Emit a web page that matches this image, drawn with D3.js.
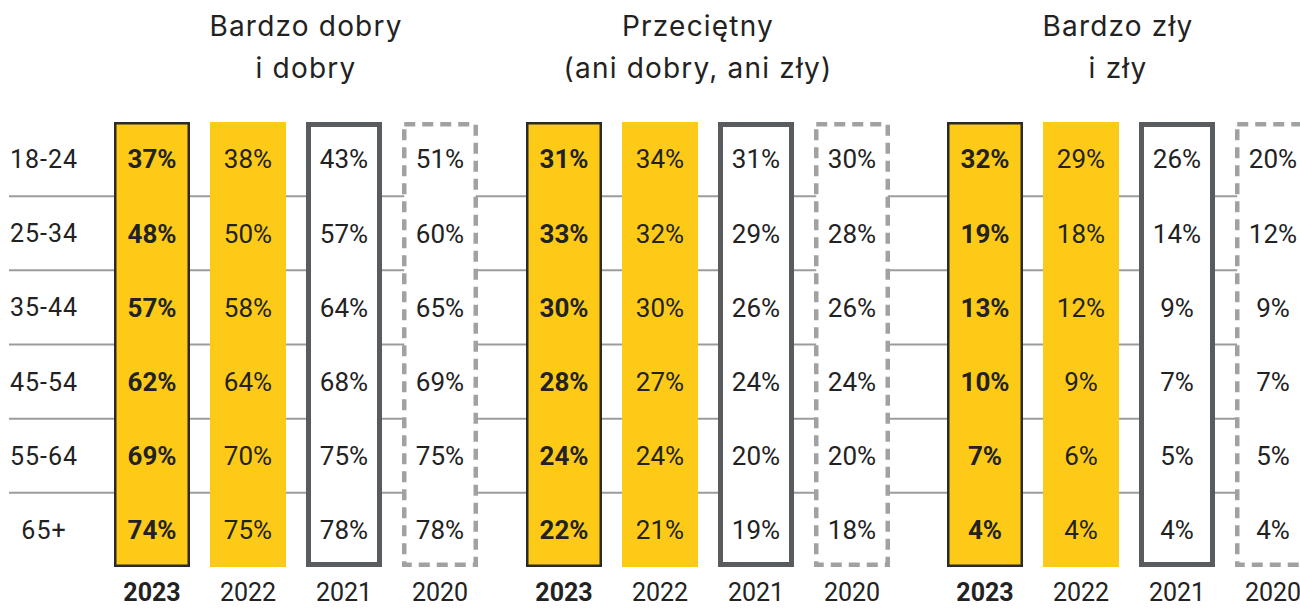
<!DOCTYPE html>
<html><head><meta charset="utf-8">
<script src="https://cdn.jsdelivr.net/npm/d3@7/dist/d3.min.js"></script>
<style>
html,body{margin:0;padding:0;background:#fff;}
svg{display:block;}
</style></head>
<body>
<svg id="chart" width="1300" height="608"></svg>
<script>
const groups = ["Bardzo dobry|i dobry", "Przeciętny|(ani dobry, ani zły)", "Bardzo zły|i zły"];
const years = ["2023", "2022", "2021", "2020"];
const ages = ["18-24", "25-34", "35-44", "45-54", "55-64", "65+"];

const good2023 = [37, 48, 57, 62, 69, 74];
const good2022 = [38, 50, 58, 64, 70, 75];
const good2021 = [43, 57, 64, 68, 75, 78];
const good2020 = [51, 60, 65, 69, 75, 78];

const avg2023 = [31, 33, 30, 28, 24, 22];
const avg2022 = [34, 32, 30, 27, 24, 21];
const avg2021 = [31, 29, 26, 24, 20, 19];
const avg2020 = [30, 28, 26, 24, 20, 18];

const bad2023 = [32, 19, 13, 10, 7, 4];
const bad2022 = [29, 18, 12, 9, 6, 4];
const bad2021 = [26, 14, 9, 7, 5, 4];
const bad2020 = [20, 12, 9, 7, 5, 4];

const values = [
  [good2023, good2022, good2021, good2020],
  [avg2023, avg2022, avg2021, avg2020],
  [bad2023, bad2022, bad2021, bad2020]
];

const svg = d3.select("#chart");
const NUMFONT = "Roboto, 'DejaVu Sans', sans-serif";
const TITLEFONT = "Inter, 'Open Sans', sans-serif";
const YELLOW = "#FDCB17";
const DARK = "#222222";

// layout
const x0 = d3.scaleOrdinal().domain(groups).range([114, 526, 947]);
const titleX = d3.scaleOrdinal().domain(groups).range([306, 698, 1118]);
const x1 = d3.scaleBand().domain(years).range([0, 364]).paddingInner(20 / 96).paddingOuter(0);
const y = d3.scaleBand().domain(ages).range([122, 567]).padding(0);

// row separator lines
const sep = ages.slice(1);
svg.append("g").selectAll("line").data(sep).join("line")
  .attr("x1", 9).attr("x2", 1300)
  .attr("y1", d => y(d)).attr("y2", d => y(d))
  .attr("stroke", "#9c9c9c").attr("stroke-width", 2);

// age labels
svg.append("g").selectAll("text").data(ages).join("text")
  .attr("x", 44).attr("y", d => y(d) + y.bandwidth() / 2)
  .attr("dy", "0.36em")
  .attr("text-anchor", "middle")
  .attr("font-family", NUMFONT).attr("font-size", 25)
  .attr("letter-spacing", "1px")
  .attr("fill", DARK)
  .text(d => d);

// titles
groups.forEach(g => {
  const lines = g.split("|");
  const cx = titleX(g);
  svg.append("text")
    .attr("x", cx).attr("y", 36)
    .attr("text-anchor", "middle")
    .attr("font-family", TITLEFONT).attr("font-size", 28).attr("font-weight", 400)
    .attr("letter-spacing", "1.2px")
    .attr("fill", DARK)
    .selectAll("tspan").data(lines).join("tspan")
    .attr("x", cx).attr("dy", (d, i) => i === 0 ? 0 : 42)
    .text(d => d);
});

const styles = {
  "2023": {fill: YELLOW, stroke: "#2a2a2a", sw: 2.5, dash: null, weight: 700, inset: 1.25},
  "2022": {fill: YELLOW, stroke: "none", sw: 0, dash: null, weight: 400, inset: 0},
  "2021": {fill: "#ffffff", stroke: "#585c5e", sw: 5, dash: null, weight: 400, inset: 2.5},
  "2020": {fill: "#ffffff", stroke: "#a0a2a2", sw: 4.5, dash: "11,7", weight: 400, inset: 2.25}
};

groups.forEach((g, gi) => {
  const gx = x0(g);
  const gg = svg.append("g").attr("transform", `translate(${gx},0)`);

  years.forEach((yr, yi) => {
    const s = styles[yr];
    const bx = x1(yr);
    gg.append("rect")
      .attr("x", bx + s.inset).attr("y", y.range()[0] + s.inset)
      .attr("width", x1.bandwidth() - 2 * s.inset)
      .attr("height", y.range()[1] - y.range()[0] - 2 * s.inset)
      .attr("fill", s.fill)
      .attr("stroke", s.stroke)
      .attr("stroke-width", s.sw)
      .attr("stroke-dasharray", s.dash);

    const vals = values[gi][yi];
    gg.append("g").selectAll("text").data(vals).join("text")
      .attr("x", bx + x1.bandwidth() / 2)
      .attr("y", (d, i) => y(ages[i]) + y.bandwidth() / 2)
      .attr("dy", "0.36em")
      .attr("text-anchor", "middle")
      .attr("font-family", NUMFONT).attr("font-size", 26)
      .attr("font-weight", s.weight)
      .attr("fill", DARK)
      .text(d => d + "%");

    gg.append("text")
      .attr("x", bx + x1.bandwidth() / 2).attr("y", 601)
      .attr("text-anchor", "middle")
      .attr("font-family", NUMFONT).attr("font-size", 25)
      .attr("font-weight", yr === "2023" ? 700 : 400)
      .attr("fill", DARK)
      .text(yr);
  });
});
</script>
</body></html>
